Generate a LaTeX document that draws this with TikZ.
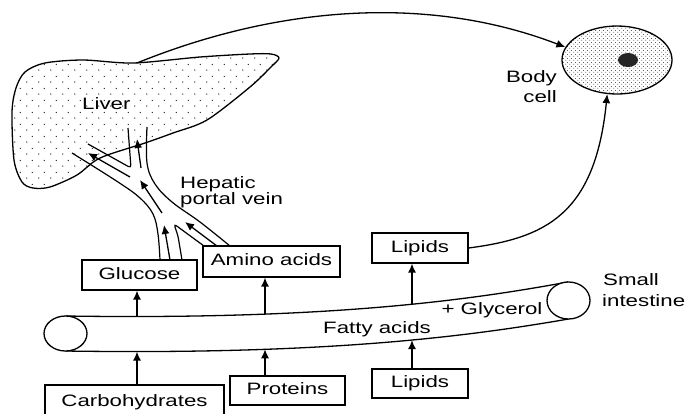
\documentclass[tikz,border=0pt]{standalone}
\usepackage{fontspec}
\setmainfont{Liberation Sans}[FakeStretch=1.35]
\usetikzlibrary{arrows.meta,shapes.geometric,patterns}
\pgfdeclarepatternformonly{liverdots}{\pgfqpoint{0pt}{0pt}}{\pgfqpoint{12pt}{11.6pt}}{\pgfqpoint{12pt}{11.6pt}}{%
  \pgfpathcircle{\pgfqpoint{3pt}{3pt}}{0.7pt}%
  \pgfpathcircle{\pgfqpoint{9pt}{8.8pt}}{0.7pt}%
  \pgfusepath{fill}}
\pgfdeclarepatternformonly{celldots}{\pgfqpoint{0pt}{0pt}}{\pgfqpoint{3.6pt}{3.6pt}}{\pgfqpoint{3.6pt}{3.6pt}}{%
  \pgfpathcircle{\pgfqpoint{0.9pt}{0.9pt}}{0.5pt}%
  \pgfpathcircle{\pgfqpoint{2.7pt}{2.7pt}}{0.5pt}%
  \pgfusepath{fill}}
\begin{document}
\begin{tikzpicture}[x=1pt,y=-1pt,
  txt/.style={font=\fontsize{16.5}{18}\selectfont, inner sep=0pt},
  box/.style={draw, line width=1.2pt, font=\fontsize{16.5}{18}\selectfont,
    text height=12pt, text depth=3.5pt, inner sep=0pt},
  arr/.style={line width=1.3pt, -{Latex[length=9pt,width=8pt]}},
  wall/.style={line width=1.2pt},
  outline/.style={line width=1.3pt}]
\useasboundingbox (0,0) rectangle (695,413);

% liver
\draw[outline, pattern=liverdots, pattern color=black!85]
  plot[smooth cycle, tension=0.5] coordinates {(133,63) (200,57) (250,54) (271,54) (279,58)
  (271,67) (250,87) (207,120) (173,133) (145,143) (100,158) (77,175) (50,187)
  (33,188) (22,182) (14,160) (12,112) (16,88) (25,72) (45,63) (83,60)};
\node[txt, anchor=base west] (liver) at (82,109) {Liver};

% hepatic portal vein walls
\draw[wall] plot[smooth, tension=0.6] coordinates {(160,260) (158,234) (153,214) (140,198) (118,182) (72,153)};
\draw[wall, rounded corners=3pt] (88,144) -- (131,168) -- (128,128);
\draw[wall] plot[smooth, tension=0.6] coordinates {(147,127) (147,163) (155,184) (172,202) (200,222) (230,246)};
\draw[wall, rounded corners=3pt] (182,260) -- (178,236) -- (174,224) -- (204,246);

% vein arrows
\coordinate (v1s) at (170,260); \coordinate (v1e) at (164,225);
\coordinate (v2s) at (217,246); \coordinate (v2e) at (185,222);
\coordinate (v3s) at (162,213); \coordinate (v3e) at (140,180);
\coordinate (v4s) at (130,177); \coordinate (v4e) at (88,153);
\coordinate (v5s) at (141,168); \coordinate (v5e) at (137,139);
\draw[arr] (v1s) -- (v1e);
\draw[arr] (v2s) -- (v2e);
\draw[arr] (v3s) -- (v3e);
\draw[arr] (v4s) -- (v4e);
\draw[arr] (v5s) -- (v5e);

\node[txt, anchor=base west] (hep1) at (180,188) {Hepatic};
\node[txt, anchor=base west] (hep2) at (180,204) {portal vein};

% body cell
\node[draw, outline, ellipse, minimum width=110pt, minimum height=68pt, inner sep=0pt,
  pattern=celldots, pattern color=black!85] (cell) at (617,60) {};
\node[ellipse, fill=black!85, minimum width=20pt, minimum height=14pt, inner sep=0pt] (nuc) at (628,60) {};
\node[txt, anchor=base east] (body1) at (557,82) {Body};
\node[txt, anchor=base east] (body2) at (557,102) {cell};

\coordinate (lv) at (137,63);
\draw[arr] (lv) .. controls (280,5) and (430,-5) .. (cell.166);

% small intestine
\draw[outline] (65.5,316) .. controls (330,320) and (470,300) .. (568,282);
\draw[outline] (65.5,351) .. controls (330,355) and (470,336) .. (568.5,319);
\draw[outline, fill=white] (65.5,333.5) ellipse [x radius=21.5pt, y radius=17.5pt];
\draw[outline, fill=white] (568.5,300.5) ellipse [x radius=21.5pt, y radius=18.5pt];
\node[txt, anchor=base] (fa) at (377,333) {Fatty acids};
\node[txt, anchor=base] (gly) at (492,314) {+ Glycerol};
\node[txt, anchor=base west] (si1) at (603,285) {Small};
\node[txt, anchor=base west] (si2) at (602,306) {intestine};

\coordinate (tA) at (137,316.6); \coordinate (bA) at (137,351.6);
\coordinate (tB) at (265,314);   \coordinate (bB) at (265,349.3);
\coordinate (tC) at (412,304.2); \coordinate (bC) at (412,340.1);

% boxes
\node[box, minimum width=115pt, minimum height=30pt] (glu) at (139.5,275) {Glucose};
\node[box, minimum width=137pt, minimum height=31pt] (amino) at (271.5,261.5) {Amino acids};
\node[box, minimum width=96pt, minimum height=30pt] (lipT) at (420,248) {Lipids};
\node[box, minimum width=96pt, minimum height=29pt] (lipB) at (420,383.5) {Lipids};
\node[box, minimum width=115pt, minimum height=29pt] (prot) at (287.5,390.5) {Proteins};
\node[box, minimum width=179pt, minimum height=34pt] (carb) at (134.5,402) {Carbohydrates};

% arrows between boxes and intestine
\draw[arr] (carb.north -| bA) -- (bA);
\draw[arr] (prot.north -| bB) -- (bB);
\draw[arr] (lipB.north -| bC) -- (bC);
\draw[arr] (tA) -- (tA |- glu.south);
\draw[arr] (tB) -- (tB |- amino.south);
\draw[arr] (tC) -- (tC |- lipT.south);

\draw[arr] (lipT.east) .. controls (545,238) and (595,215) .. (cell.254);
\end{tikzpicture}
\end{document}
